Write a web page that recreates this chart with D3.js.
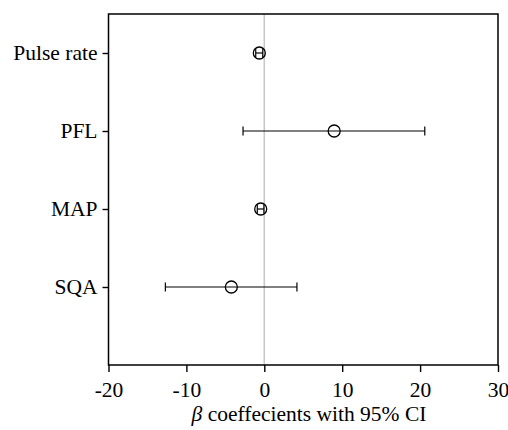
<!DOCTYPE html>
<html>
<head>
<meta charset="utf-8">
<script src="https://cdn.jsdelivr.net/npm/d3@7"></script>
<style>
  body { margin: 0; background: #fff; }
  text { font-family: "Liberation Serif", "Times New Roman", serif; }
</style>
</head>
<body>
<div id="chart"></div>
<script>
// variables, estimates and 95% CI
var variables = ["Pulse rate", "PFL", "MAP", "SQA"];
var estimates = [-0.64, 8.97, -0.46, -4.23];
var lower     = [-1.1, -2.73, -0.9, -12.7];
var upper     = [-0.2, 20.6, -0.05, 4.19];
var xTicks    = [-20, -10, 0, 10, 20, 30];

var width = 508, height = 430,
    margin = {top: 14, right: 10, bottom: 65, left: 108.5},
    fontSize = 21.5;

var svg = d3.select("#chart").append("svg")
    .attr("width", width)
    .attr("height", height);

var x = d3.scaleLinear().domain([-20, 30]).range([margin.left, width - margin.right]);
var y = d3.scaleLinear().domain([0.5, 5]).range([margin.top, height - margin.bottom]);

// zero reference line
svg.append("line")
    .attr("x1", x(0)).attr("x2", x(0))
    .attr("y1", y(0.5)).attr("y2", y(5))
    .attr("stroke", "#c8c8c8")
    .attr("stroke-width", 1.6);

// x axis
var gx = svg.append("g")
    .attr("transform", "translate(0," + y(5) + ")")
    .call(d3.axisBottom(x).tickValues(xTicks).tickSize(7).tickPadding(10).tickFormat(d3.format("d")));
gx.select(".domain").remove();
gx.selectAll("line").attr("stroke", "#000").attr("stroke-width", 1.4);
gx.selectAll("text").attr("font-size", fontSize).attr("fill", "#000")
    .text(function(d) { return String(d); });

// y axis
var gy = svg.append("g")
    .attr("transform", "translate(" + x(-20) + ",0)")
    .call(d3.axisLeft(y).tickValues([1, 2, 3, 4]).tickSize(6).tickPadding(5)
        .tickFormat(function(d) { return variables[d - 1]; }));
gy.select(".domain").remove();
gy.selectAll("line").attr("stroke", "#000").attr("stroke-width", 1.4);
gy.selectAll("text").attr("font-size", fontSize).attr("fill", "#000");

// frame
svg.append("rect")
    .attr("x", x(-20)).attr("y", y(0.5))
    .attr("width", x(30) - x(-20))
    .attr("height", y(5) - y(0.5))
    .attr("fill", "none")
    .attr("stroke", "#000")
    .attr("stroke-width", 1.5);

// error bars
var rows = variables.map(function(v, i) {
    return {name: v, pos: i + 1, est: estimates[i], lo: lower[i], hi: upper[i]};
});

var g = svg.append("g");
var capH = 4.5;

g.selectAll(".ci").data(rows).enter().append("line")
    .attr("x1", function(d) { return x(d.lo); })
    .attr("x2", function(d) { return x(d.hi); })
    .attr("y1", function(d) { return y(d.pos); })
    .attr("y2", function(d) { return y(d.pos); })
    .attr("stroke", "#000").attr("stroke-width", 1.2);

["lo", "hi"].forEach(function(k) {
    g.selectAll(".cap-" + k).data(rows).enter().append("line")
        .attr("x1", function(d) { return x(d[k]); })
        .attr("x2", function(d) { return x(d[k]); })
        .attr("y1", function(d) { return y(d.pos) - capH; })
        .attr("y2", function(d) { return y(d.pos) + capH; })
        .attr("stroke", "#000").attr("stroke-width", 1.2);
});

g.selectAll("circle").data(rows).enter().append("circle")
    .attr("cx", function(d) { return x(d.est); })
    .attr("cy", function(d) { return y(d.pos); })
    .attr("r", 6)
    .attr("fill", "none")
    .attr("stroke", "#000")
    .attr("stroke-width", 1.3);

// x axis title
var title = svg.append("text")
    .attr("x", 309)
    .attr("y", 421)
    .attr("text-anchor", "middle")
    .attr("font-size", fontSize);
title.append("tspan").attr("font-style", "italic").text("β");
title.append("tspan").text(" coeffecients with 95% CI");
</script>
</body>
</html>
